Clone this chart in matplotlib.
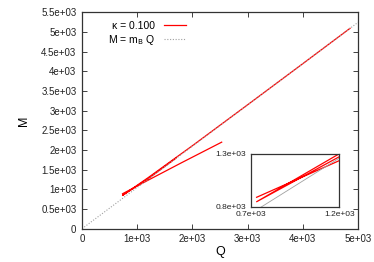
import numpy as np
import matplotlib
matplotlib.use("Agg")
import matplotlib.pyplot as plt

plt.rcParams["font.family"] = ["Liberation Sans", "DejaVu Sans"]

# --- data ---
# swallowtail curve, NaN separates the two pieces
q_curve = [2530, 1800, 1200, 734, np.nan, 1700, 1200, 734, 1200, 2000, 3000, 4000, 4855]
m_curve = [2200, 1675, 1235, 889, np.nan, 1790, 1272, 847, 1300, 2110, 3150, 4195, 5093]
m_B = 1.049
q_line = np.array([0, 5000])

x_ticks = [0, 1000, 2000, 3000, 4000, 5000]
x_labels = ["0", "1e+03", "2e+03", "3e+03", "4e+03", "5e+03"]
y_ticks = [0, 500, 1000, 1500, 2000, 2500, 3000, 3500, 4000, 4500, 5000, 5500]
y_labels = ["0", "0.5e+03", "1e+03", "1.5e+03", "2e+03", "2.5e+03", "3e+03",
            "3.5e+03", "4e+03", "4.5e+03", "5e+03", "5.5e+03"]
inset_x = [700, 1200]
inset_x_labels = ["0.7e+03", "1.2e+03"]
inset_y = [800, 1300]
inset_y_labels = ["0.8e+03", "1.3e+03"]

RED = "#ff0000"
GREY = "#a0a0a0"

fig = plt.figure(figsize=(3.74, 2.62), dpi=100)
ax = fig.add_axes([0.2193, 0.127, 0.738, 0.826])

ax.plot(q_curve, m_curve, color=RED, lw=0.9, label="κ = 0.100")
ax.plot(q_line, m_B * q_line, color=GREY, lw=0.8, ls=(0, (1, 1.5)),
        label="M = m$_\\mathrm{B}$ Q")

ax.set_xlim(0, 5000)
ax.set_ylim(0, 5500)
ax.set_xticks(x_ticks)
ax.set_xticklabels(x_labels)
ax.set_yticks(y_ticks)
ax.set_yticklabels(y_labels)
ax.tick_params(direction="in", length=3.5, width=0.6, labelsize=7,
               top=True, right=True, pad=4, colors="#222222")
for s in ax.spines.values():
    s.set_linewidth(0.9)
    s.set_color("#333333")
ax.set_xlabel("Q", fontsize=9, labelpad=1)
ax.set_ylabel("M", fontsize=9, labelpad=8)

leg = ax.legend(loc="upper left", bbox_to_anchor=(0.068, 0.995), frameon=False,
                markerfirst=False, fontsize=7.5, handlelength=2.1,
                handletextpad=0.9, labelspacing=0.22, borderpad=0.2)

# --- inset ---
axi = fig.add_axes([0.670, 0.211, 0.237, 0.202])
axi.plot(q_curve, m_curve, color=RED, lw=0.9)
axi.plot(q_line, m_B * q_line, color=GREY, lw=0.6)
axi.set_xlim(inset_x)
axi.set_ylim(inset_y)
axi.set_xticks(inset_x)
axi.set_xticklabels(inset_x_labels)
axi.set_yticks(inset_y)
axi.set_yticklabels(inset_y_labels)
axi.tick_params(length=0, labelsize=6, pad=3, colors="#222222")
for s in axi.spines.values():
    s.set_linewidth(0.9)
    s.set_color("#333333")

plt.savefig("out.png", dpi=100)
plt.close()
